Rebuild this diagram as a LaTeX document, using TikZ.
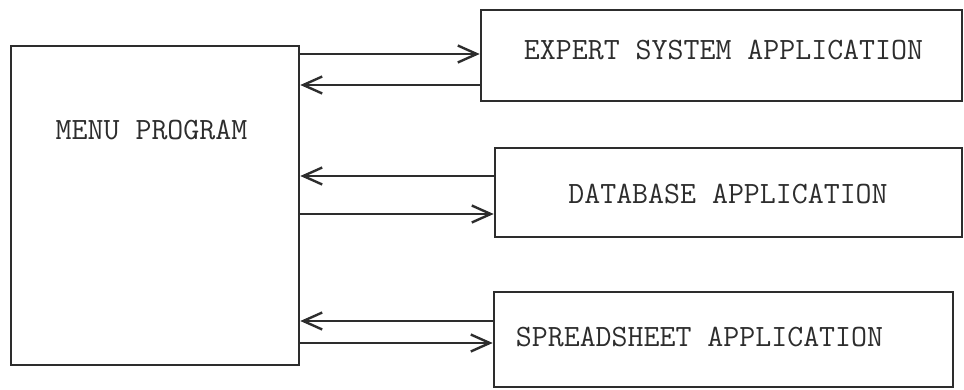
\documentclass[tikz,border=0pt]{standalone}
\usepackage{tikz}
\usetikzlibrary{arrows.meta,positioning}
\definecolor{inkgray}{RGB}{45,45,45}

\tikzset{
  appbox/.style={draw=inkgray, line width=2.6pt, rectangle, inner sep=0pt},
  boxtext/.style={font=\fontsize{31}{37}\selectfont\ttfamily, text=inkgray},
  flow/.style={draw=inkgray, line width=2.6pt, -{Straight Barb[length=19pt,width=17pt,line width=2.4pt]}}
}

\begin{document}
\begin{tikzpicture}[x=1pt,y=-1pt]
    \useasboundingbox (0,0) rectangle (964,389);

    % Main program
    \node[appbox, minimum width=288pt, minimum height=319pt,
          label={[boxtext, xshift=-3.5pt, yshift=75.5pt]center:MENU PROGRAM}] (menu) at (155,205.5) {};

    % Applications
    \node[appbox, minimum width=481pt, minimum height=91pt,
          label={[boxtext, xshift=2pt, yshift=5.5pt]center:EXPERT SYSTEM APPLICATION}] (expert) at (721.5,55.5) {};
    \node[appbox, minimum width=467pt, minimum height=89pt,
          label={[boxtext, xshift=-0.5pt, yshift=-1.5pt]center:DATABASE APPLICATION}] (db) at (728.5,192.5) {};
    \node[appbox, minimum width=459pt, minimum height=95pt,
          label={[boxtext, xshift=-24pt, yshift=2.5pt]center:SPREADSHEET APPLICATION}] (sheet) at (723.5,339.5) {};

    % Calls and returns
    \foreach \app/\outy/\backy in {expert/1.5/-29.5, db/-21.5/16.5, sheet/-3.5/18.5} {
        \coordinate (out) at ([yshift=\outy pt]\app.west);
        \coordinate (back) at ([yshift=\backy pt]\app.west);
        \draw[flow] (out -| menu.east) -- (out);
        \draw[flow] (back) -- (back -| menu.east);
    }
\end{tikzpicture}
\end{document}
